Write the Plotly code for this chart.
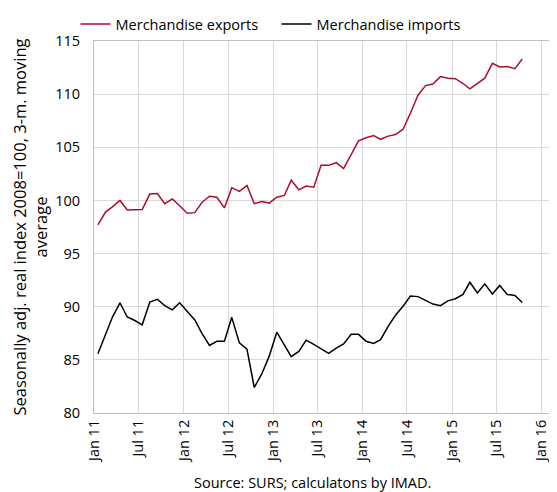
import pandas as pd
import plotly.graph_objects as go

# monthly, Jan 2011 - Oct 2015
months = pd.date_range("2011-01-01", periods=58, freq="MS") + pd.Timedelta(days=14)

exports = [97.7, 98.9, 99.4, 100.0, 99.1, 99.15, 99.15, 100.6, 100.65, 99.7,
           100.15, 99.5, 98.8, 98.85, 99.8, 100.4, 100.3, 99.3, 101.2, 100.85,
           101.4, 99.7, 99.9, 99.75, 100.3, 100.47, 101.9, 101.0, 101.35, 101.25,
           103.3, 103.3, 103.55, 103.0, 104.3, 105.6, 105.9, 106.1, 105.75, 106.05,
           106.2, 106.7, 108.2, 109.9, 110.8, 110.95, 111.65, 111.5, 111.45, 111.0,
           110.5, 111.0, 111.5, 112.9, 112.55, 112.6, 112.4, 113.3]

imports = [85.57, 87.3, 89.0, 90.37, 89.03, 88.7, 88.3, 90.43, 90.7, 90.1,
           89.7, 90.37, 89.6, 88.75, 87.5, 86.35, 86.75, 86.75, 89.0, 86.6,
           86.0, 82.4, 83.7, 85.35, 87.6, 86.45, 85.3, 85.8, 86.85, 86.45,
           86.05, 85.6, 86.1, 86.5, 87.4, 87.4, 86.75, 86.55, 86.9, 88.15,
           89.2, 90.05, 91.0, 90.95, 90.6, 90.25, 90.1, 90.55, 90.75, 91.15,
           92.3, 91.3, 92.15, 91.2, 92.0, 91.15, 91.05, 90.4]

font = "Open Sans"

fig = go.Figure()
fig.add_trace(go.Scatter(x=months, y=exports, mode="lines", name="Merchandise exports",
                         line=dict(color="#a8102e", width=1.5)))
fig.add_trace(go.Scatter(x=months, y=imports, mode="lines", name="Merchandise imports",
                         line=dict(color="#000000", width=1.5)))

# the page body adds an 8px offset, so the figure is 8px smaller than the window
fig.update_layout(
    width=549, height=484,
    margin=dict(l=86, r=1, t=32, b=79),
    paper_bgcolor="white", plot_bgcolor="white",
    font=dict(family=font, size=14.5, color="#000000"),
    showlegend=True,
    legend=dict(orientation="h", x=-0.04, y=1.0, xanchor="left", yanchor="bottom",
                font=dict(size=14.5), entrywidth=156, itemwidth=30,
                bgcolor="rgba(0,0,0,0)"),
    annotations=[dict(text="Source: SURS; calculatons by IMAD.", xref="paper", yref="paper",
                      x=0.474, y=-0.186, xanchor="center", yanchor="middle",
                      showarrow=False, font=dict(size=14.5))],
)

fig.update_xaxes(
    range=["2010-12-30", "2016-03-01"], automargin=False,
    tick0="2011-01-01", dtick="M6", tickformat="%b %y", tickangle=-90,
    showgrid=True, gridcolor="#d9d9d9", gridwidth=1,
    showline=True, linecolor="#bfbfbf", linewidth=1, mirror=True,
    ticks="", tickfont=dict(size=14.5),
)
fig.update_yaxes(
    range=[80, 115], dtick=5, automargin=False,
    showgrid=True, gridcolor="#d9d9d9", gridwidth=1,
    showline=True, linecolor="#bfbfbf", linewidth=1, mirror=True,
    ticks="", tickfont=dict(size=14.5), ticklabelstandoff=10,
    title=dict(text="Seasonally adj. real index 2008=100, 3-m. moving<br>average",
               font=dict(size=16.5), standoff=4),
)

fig.write_html("out.html")
